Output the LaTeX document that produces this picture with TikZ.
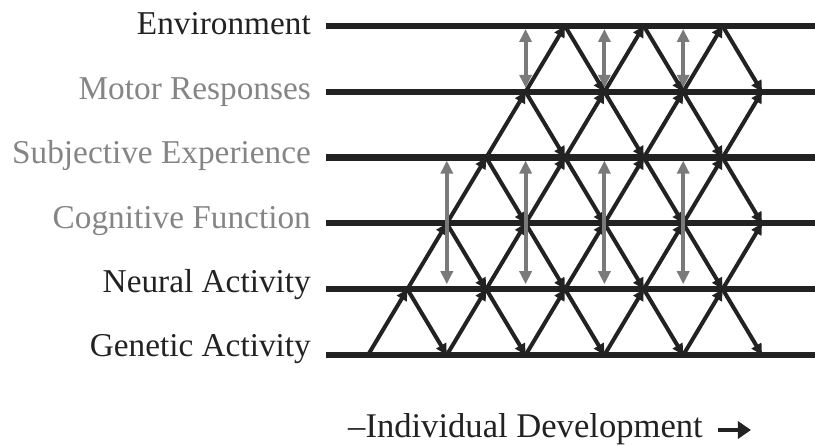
\documentclass[tikz,border=0pt]{standalone}
\usepackage{fontspec}
\setmainfont{Liberation Serif}
\usetikzlibrary{arrows.meta,calc}
\definecolor{ink}{HTML}{222222}
\definecolor{shade}{HTML}{7A7A7A}
\definecolor{soft}{HTML}{858585}
\begin{document}
\begin{tikzpicture}[x=1pt,y=-1pt,
  band/.style={line width=6.2pt, draw=ink},
  link/.style={line width=4pt, draw=ink, -{Triangle[length=11pt,width=11pt]}},
  mutual/.style={line width=4pt, draw=shade, {Triangle[length=13pt,width=12pt]}-{Triangle[length=13pt,width=12pt]}},
  rowname/.style={anchor=base east, inner sep=0pt, font=\fontsize{33.3}{38}\selectfont},
]
\useasboundingbox (0,0) rectangle (815,446);

% one horizontal band per level: 0 = genetic ... 5 = environment
\foreach \k/\txt/\col in {0/Genetic Activity/ink, 1/Neural Activity/ink,
    2/Cognitive Function/soft, 3/Subjective Experience/soft,
    4/Motor Responses/soft, 5/Environment/ink} {
  \pgfmathsetmacro{\ly}{355-65.8*\k}
  \pgfmathsetmacro{\ty}{357-64.4*\k}
  \node[rowname, text=\col] (name-\k) at (311,\ty) {\txt};
  \coordinate (start-\k) at (326,\ly);
  \coordinate (end-\k) at (815,\ly);
  \draw[band] (start-\k) -- (end-\k);
}

% lattice vertices on each band
\foreach \k/\n in {0/5,1/4,2/4,3/3,4/3,5/2} {
  \foreach \j in {0,...,\n} {
    \coordinate (v-\k-\j) at ({368+39.4*\k+78.8*\j},{355-65.8*\k});
  }
}

% upward influences
\foreach \k/\n in {0/4,1/4,2/3,3/3,4/2} {
  \pgfmathtruncatemacro{\up}{\k+1}
  \foreach \j in {0,...,\n} \draw[link] (v-\k-\j) -- (v-\up-\j);
}
% downward influences
\foreach \k/\n in {1/4,2/3,3/3,4/2,5/2} {
  \pgfmathtruncatemacro{\dn}{\k-1}
  \foreach \j in {0,...,\n} {
    \pgfmathtruncatemacro{\nx}{\j+1}
    \draw[link] (v-\k-\j) -- (v-\dn-\nx);
  }
}

% two-way links between environment and motor responses
\foreach \j in {0,1,2}
  \draw[mutual, shorten <=3pt, shorten >=4pt] (v-4-\j |- start-5) -- (v-4-\j);
% two-way links from subjective experience down to neural activity
\foreach \j in {0,1,2,3}
  \draw[mutual, shorten <=3pt, shorten >=5pt] (v-2-\j |- start-3) -- (v-2-\j |- start-1);

% time axis
\node[anchor=base west, inner sep=0pt, text=ink, font=\fontsize{34.6}{40}\selectfont]
  (axis) at (348,438) {--Individual Development};
\coordinate (axis-a) at ($(axis.base east)+(15,-8)$);
\coordinate (axis-b) at ($(axis.base east)+(48,-8)$);
\draw[line width=4pt, ink, -{Triangle[length=13pt,width=17pt]}] (axis-a) -- (axis-b);
\end{tikzpicture}
\end{document}
